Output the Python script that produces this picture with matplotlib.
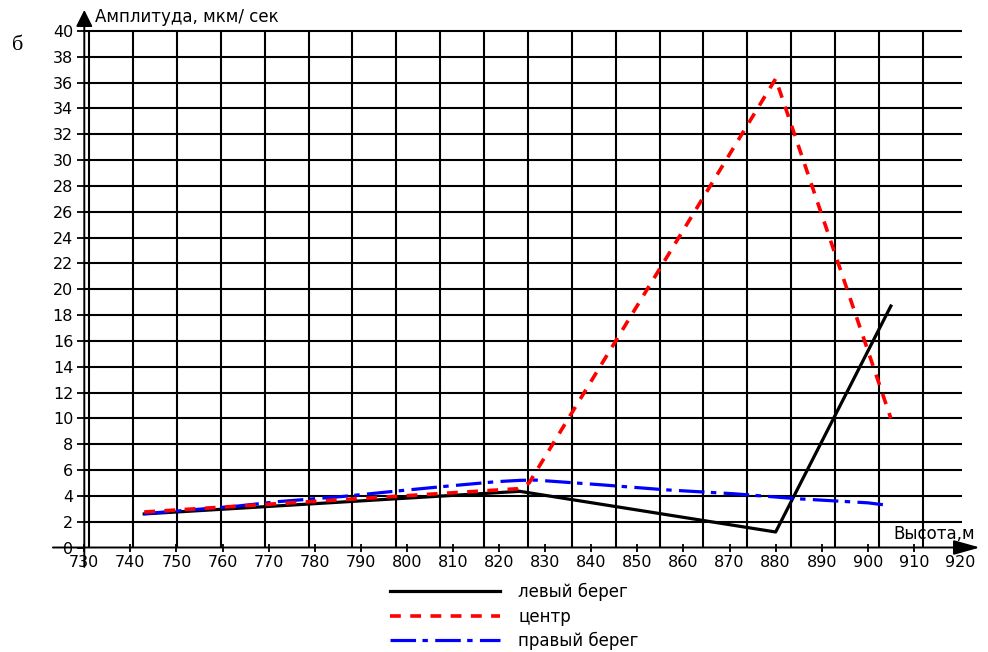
import numpy as np
import matplotlib
matplotlib.use('Agg')
import matplotlib.pyplot as plt

plt.rcParams['font.family'] = ['DejaVu Sans']

# values
x_left = [743, 824.5, 880, 905]
y_left = [2.6, 4.35, 1.2, 18.7]

x_center = [743, 824, 826.5, 880, 905]
y_center = [2.75, 4.55, 5.0, 36.3, 10.0]

x_right = [743, 763, 772, 786, 800, 809, 819.5, 824.5, 828, 842, 856, 871, 885, 900, 904.5]
y_right = [2.62, 3.2, 3.55, 3.95, 4.45, 4.76, 5.1, 5.2, 5.22, 4.86, 4.47, 4.16, 3.77, 3.46, 3.26]

labels = ['левый берег', 'центр', 'правый берег']
x_ticks = np.arange(730, 921, 10)
y_ticks = np.arange(0, 41, 2)

fs = 12
W, H = 988, 652
fig = plt.figure(figsize=(W / 100, H / 100), dpi=100)
ax = fig.add_axes([84.3 / W, (H - 547.5) / H, 875.7 / W, 516.5 / H])
ax.set_xlim(730, 920)
ax.set_ylim(0, 40)
for s in ax.spines.values():
    s.set_visible(False)

# grid (the vertical grid does not follow the ticks in the original)
gx = 731.08 + 9.518 * np.arange(20)
ax.vlines(gx, 0, 40, colors='k', lw=1.5, clip_on=False, zorder=1)
ax.hlines(y_ticks[1:], 730, 920.4, colors='k', lw=1.5, clip_on=False, zorder=1)

# axes with arrows
ax.annotate('', xy=(924.3, 0), xytext=(723.2, 0), xycoords='data',
            arrowprops=dict(arrowstyle='-|>,head_length=1.6,head_width=0.45',
                            mutation_scale=10, lw=1.4, color='k',
                            shrinkA=0, shrinkB=0), annotation_clip=False)
ax.annotate('', xy=(730, 41.63), xytext=(730, -1.5), xycoords='data',
            arrowprops=dict(arrowstyle='-|>,head_length=1.0,head_width=0.5',
                            mutation_scale=10, lw=1.4, color='k',
                            shrinkA=0, shrinkB=0), annotation_clip=False)

lw = 2.3
ax.plot(x_left, y_left, color='k', lw=lw, label=labels[0], clip_on=False, zorder=3)
ax.plot(x_center, y_center, color='red', lw=2.6, dashes=(3, 2.6), label=labels[1],
        clip_on=False, zorder=4)
ax.plot(x_right, y_right, color='blue', lw=lw, dashes=(8, 2, 1.7, 2.3), label=labels[2],
        clip_on=False, zorder=3)

ax.set_xticks(x_ticks)
ax.set_yticks(y_ticks)
ax.tick_params(axis='x', direction='inout', length=5.3, width=1.3, pad=2.5, labelsize=11.5)
ax.tick_params(axis='y', direction='out', length=5, width=1.3, pad=3, labelsize=11.5)

ax.text(732.3, 41.08, 'Амплитуда, мкм/ сек', fontsize=fs, ha='left', va='center')
ax.text(905.5, 1.05, 'Высота,м', fontsize=fs, ha='left', va='center')
fig.text(12 / W, 1 - 45 / H, 'б', fontsize=16, family='Liberation Serif', va='center')

ax.legend(loc='upper left', bbox_to_anchor=(390 / W, 1 - 583 / H),
          bbox_transform=fig.transFigure, frameon=False, fontsize=fs,
          handlelength=6.6, handletextpad=1.1, labelspacing=0.38,
          borderpad=0, borderaxespad=0)

fig.savefig('out.png', dpi=100)
